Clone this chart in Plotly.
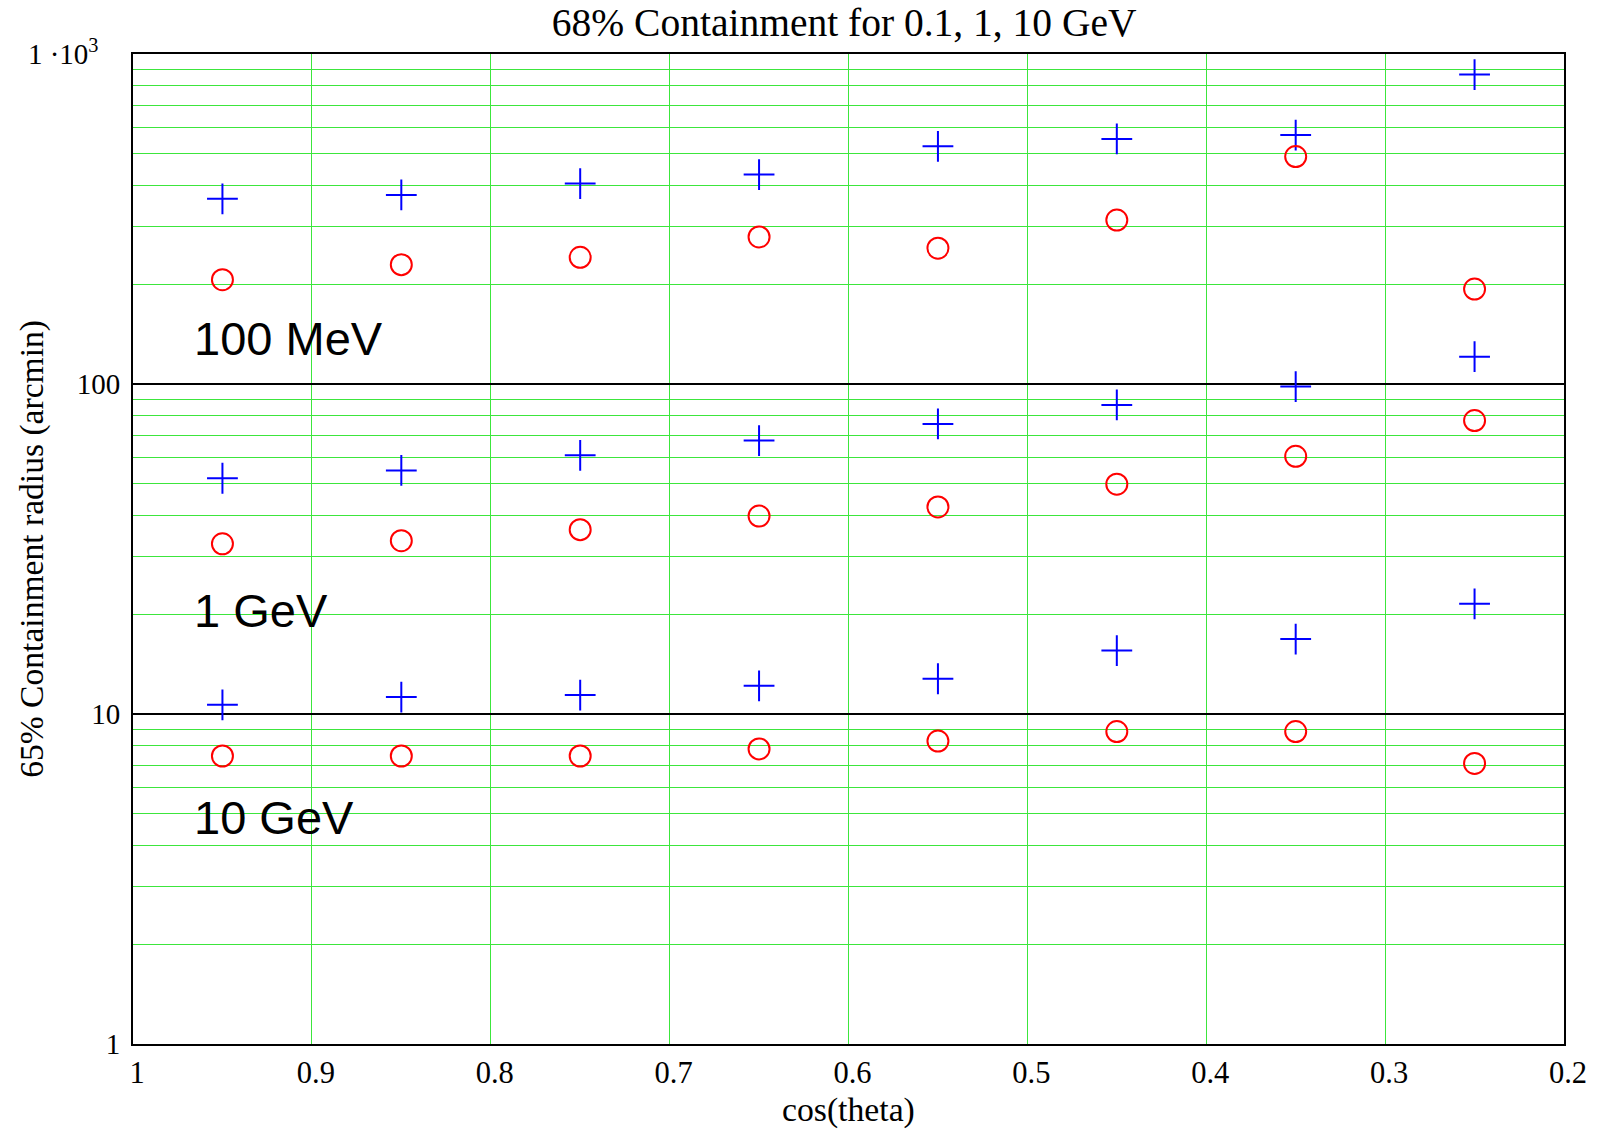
import plotly.graph_objects as go

# cos(theta) bin centres
cos_theta = [0.95, 0.85, 0.75, 0.65, 0.55, 0.45, 0.35, 0.25]

# containment radius (arcmin), "+" and "o" series per energy
plus_100MeV = [364, 374, 405, 431, 525, 553, 568, 866]
circle_100MeV = [207, 230, 242, 279, 258, 314, 489, 194]
plus_1GeV = [51.8, 54.7, 60.8, 67.4, 75.7, 86.4, 98.2, 121]
circle_1GeV = [32.8, 33.5, 36.2, 39.8, 42.4, 49.7, 60.4, 77.5]
plus_10GeV = [10.66, 11.25, 11.41, 12.17, 12.79, 15.57, 16.87, 21.57]
circle_10GeV = [7.46, 7.46, 7.46, 7.84, 8.28, 8.85, 8.85, 7.08]

x_ticks = [1, 0.9, 0.8, 0.7, 0.6, 0.5, 0.4, 0.3, 0.2]
x_ticktext = ["1", "0.9", "0.8", "0.7", "0.6", "0.5", "0.4", "0.3", "0.2"]
y_ticks = [1, 10, 100, 1000]
y_ticktext = ["1", "10", "100", "1 \u00b710<sup>3</sup>\u00a0\u00a0\u00a0"]
energy_labels = ["100 MeV", "1 GeV", "10 GeV"]

BLUE = "#0000ff"
RED = "#ff0000"
GREEN = "#3ce63c"
SERIF = "Liberation Serif, Times New Roman, serif"
SANS = "Liberation Sans, Arial, sans-serif"

fig = go.Figure()

for ys in (plus_100MeV, plus_1GeV, plus_10GeV):
    fig.add_trace(go.Scatter(
        x=cos_theta, y=ys, mode="markers", showlegend=False,
        marker=dict(symbol="cross-thin", size=22, color=BLUE,
                    line=dict(color=BLUE, width=2)),
    ))
for ys in (circle_100MeV, circle_1GeV, circle_10GeV):
    fig.add_trace(go.Scatter(
        x=cos_theta, y=ys, mode="markers", showlegend=False,
        marker=dict(symbol="circle-open", size=21, color=RED,
                    line=dict(color=RED, width=2)),
    ))

# minor log grid: 2..9 within each decade
minor_vals = [m * 10 ** d for d in range(3) for m in range(2, 10)]

fig.update_xaxes(
    range=[1, 0.2], tickvals=x_ticks, ticktext=x_ticktext,
    showgrid=True, gridcolor=GREEN, gridwidth=1,
    showline=True, mirror=True, linecolor="black", linewidth=2,
    ticks="", zeroline=False, ticklabelshift=-4,
    tickfont=dict(family=SERIF, size=30.5, color="black"),
)
fig.update_yaxes(
    type="log", range=[0, 3], tickvals=y_ticks, ticktext=y_ticktext,
    showgrid=True, gridcolor="black", gridwidth=1.5,
    minor=dict(tickvals=minor_vals, showgrid=True, gridcolor=GREEN,
               gridwidth=1, ticks=""),
    showline=True, mirror=True, linecolor="black", linewidth=2,
    ticks="", zeroline=False, ticklabelstandoff=5,
    tickfont=dict(family=SERIF, size=29, color="black"),
)

# energy labels inside the plot (y in log10 units)
label_pos = [(0.967, 2.137), (0.967, 1.313), (0.967, 0.685)]
for text, (lx, ly) in zip(energy_labels, label_pos):
    fig.add_annotation(
        x=lx, y=ly, xref="x", yref="y", text=text, showarrow=False,
        xanchor="left", yanchor="middle",
        font=dict(family=SANS, size=47, color="black"),
    )

# axis titles
fig.add_annotation(
    x=0.5, y=-0.0667, xref="paper", yref="paper", text="cos(theta)",
    showarrow=False, xanchor="center", yanchor="middle",
    font=dict(family=SERIF, size=33.7, color="black"),
)
fig.add_annotation(
    x=-0.0707, y=0.5, xref="paper", yref="paper",
    text="65% Containment radius (arcmin)", textangle=-90,
    showarrow=False, xanchor="center", yanchor="middle",
    font=dict(family=SERIF, size=33.6, color="black"),
)

fig.update_layout(
    width=1599, height=1129,
    margin=dict(l=133, r=33, t=54, b=85),
    paper_bgcolor="white", plot_bgcolor="white",
    title=dict(text="68% Containment for 0.1, 1, 10 GeV",
               x=0.497, xref="paper", y=1 - 22.5 / 1129, yref="container",
               xanchor="center", yanchor="middle",
               font=dict(family=SERIF, size=39.5, color="black")),
)

fig.write_html("out.html")
